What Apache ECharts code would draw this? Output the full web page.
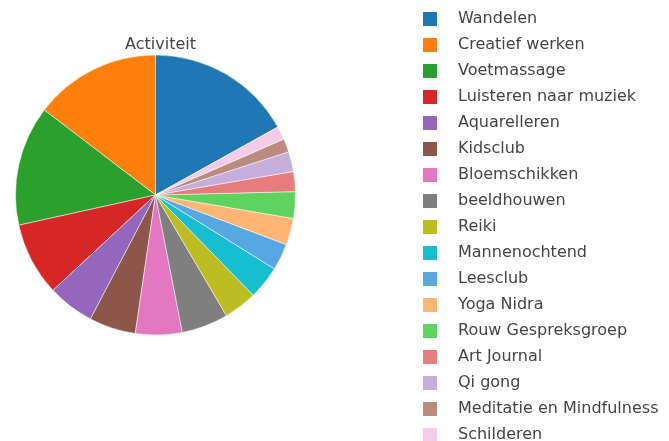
<!DOCTYPE html>
<html>
<head>
<meta charset="utf-8">
<script src="https://cdn.jsdelivr.net/npm/echarts@6/dist/echarts.min.js"></script>
<style>
html,body{margin:0;padding:0;background:#fff;}
#chart{width:669px;height:441px;}
</style>
</head>
<body>
<div id="chart"></div>
<script>
const categories = ["Wandelen","Creatief werken","Voetmassage","Luisteren naar muziek","Aquarelleren","Kidsclub","Bloemschikken","beeldhouwen","Reiki","Mannenochtend","Leesclub","Yoga Nidra","Rouw Gespreksgroep","Art Journal","Qi gong","Meditatie en Mindfulness","Schilderen"];
const values = [22,19,18,11,7,7,7,7,5,5,4,4,4,3,3,2,2];
const colors = ["#1f77b4","#ff7f0e","#2ca02c","#d62728","#9467bd","#8c564b","#e377c2","#7f7f7f","#bcbd22","#17becf","#57a7e2","#ffb574","#5fd35f","#e77c7c","#c6aedc","#bb8b81","#f4cce8"];
const titleText = "Activiteit";

const total = values.reduce((a,b)=>a+b,0);
const firstAngle = 360*values[0]/total;

const chart = echarts.init(document.getElementById('chart'), null, {renderer:'canvas'});
chart.setOption({
  animation:false,
  title:{
    text:titleText,
    left:155.5, top:32, textAlign:'center',
    textStyle:{fontFamily:'DejaVu Sans', fontSize:16, fontWeight:'normal', color:'#444'}
  },
  legend:{
    orient:'vertical', left:421, top:10, height:800, padding:0,
    itemWidth:16, itemHeight:16, itemGap:8,
    icon:'rect',
    data:categories,
    textStyle:{fontFamily:'DejaVu Sans', fontSize:16, lineHeight:16, color:'#444', padding:[0,0,0,15]}
  },
  series:[{
    type:'pie',
    center:[155.5,195],
    radius:140,
    clockwise:false,
    startAngle:90-firstAngle,
    label:{show:false},
    labelLine:{show:false},
    emphasis:{scale:false},
    itemStyle:{borderColor:'#fff', borderWidth:0.5},
    data:categories.map((c,i)=>({name:c, value:values[i], itemStyle:{color:colors[i]}}))
  }]
});
</script>
</body>
</html>
